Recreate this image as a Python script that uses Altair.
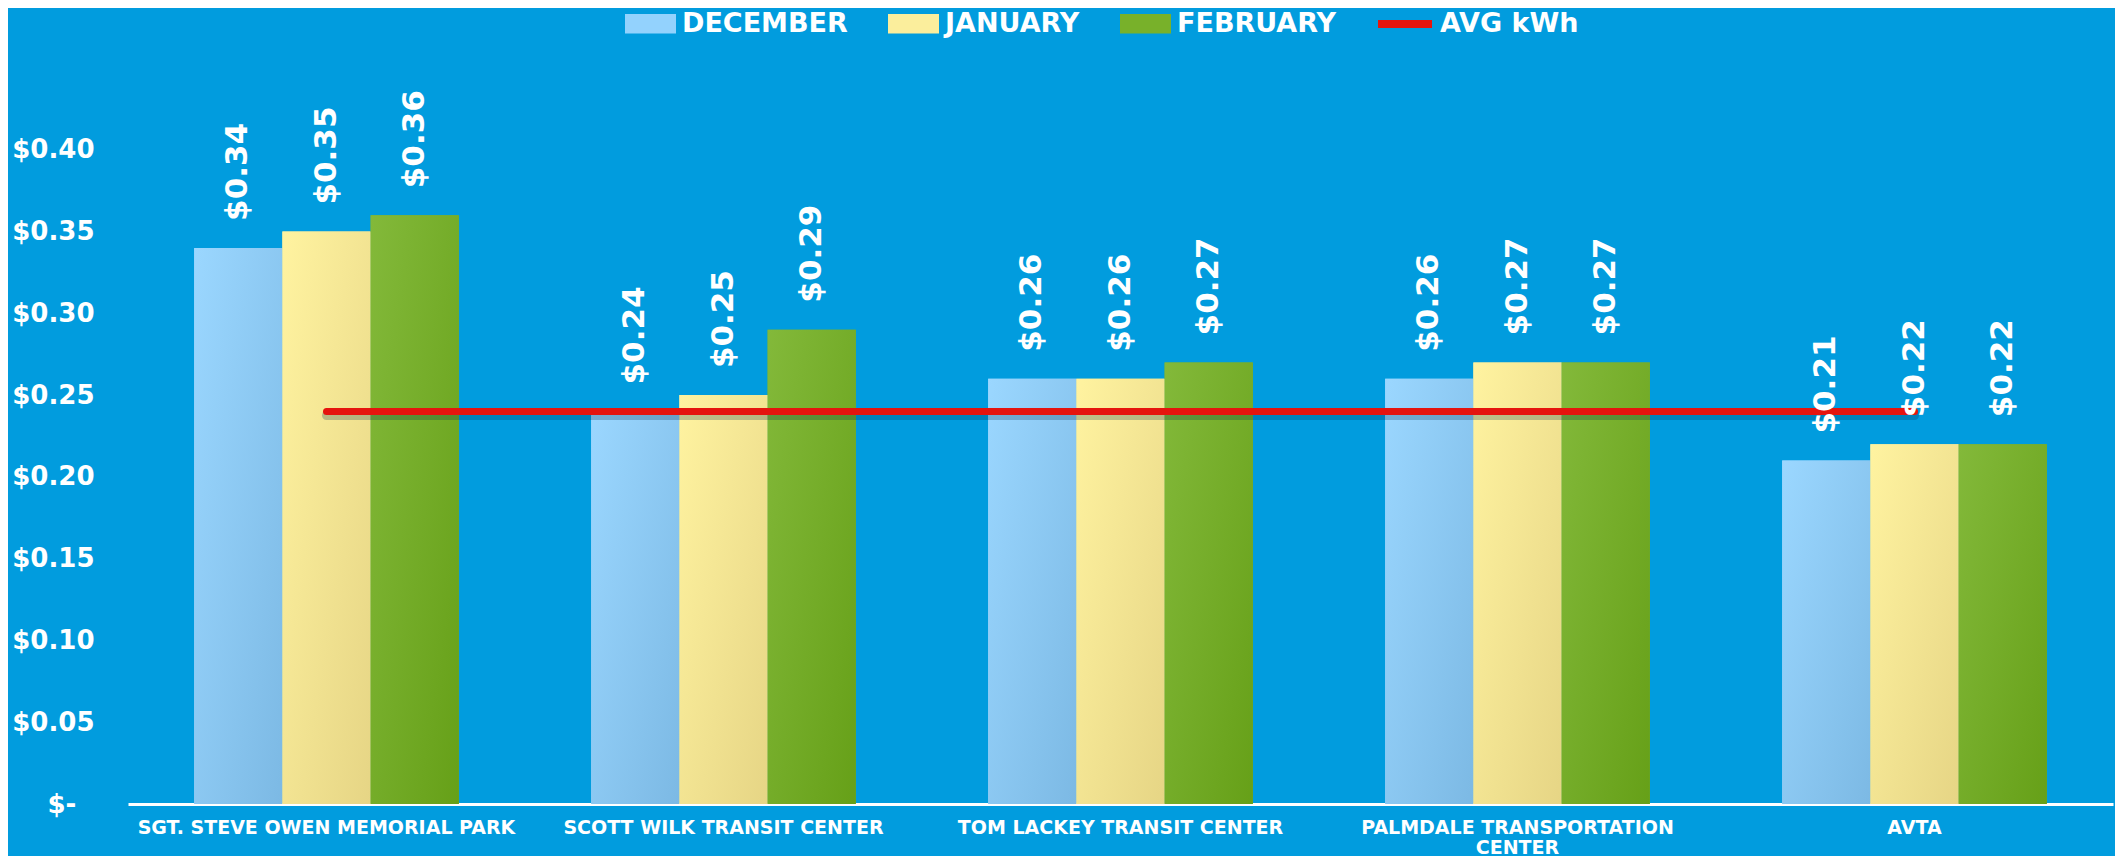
import altair as alt
import pandas as pd

locations = [
    "SGT. STEVE OWEN MEMORIAL PARK",
    "SCOTT WILK TRANSIT CENTER",
    "TOM LACKEY TRANSIT CENTER",
    "PALMDALE TRANSPORTATION CENTER",
    "AVTA",
]
months = ["DECEMBER", "JANUARY", "FEBRUARY"]
december = [0.34, 0.24, 0.26, 0.26, 0.21]
january = [0.35, 0.25, 0.26, 0.27, 0.22]
february = [0.36, 0.29, 0.27, 0.27, 0.22]
avg_kwh = [0.24, 0.24, 0.24, 0.24, 0.24]
avg_name = "AVG kWh"
y_ticks = [0.0, 0.05, 0.10, 0.15, 0.20, 0.25, 0.30, 0.35, 0.40]

flat_colors = ["#93D2FD", "#FBEE9C", "#78B12A"]
grad_colors = [
    ("#9BD7FF", "#7CB9E4"),
    ("#FFF3A0", "#E6D585"),
    ("#83B93A", "#66A018"),
]

rows = []
for m, vals in zip(months, [december, january, february]):
    for loc, v in zip(locations, vals):
        rows.append({"location": loc, "month": m, "value": v})
bars_df = pd.DataFrame(rows)
avg_df = pd.DataFrame({"location": locations, "value": avg_kwh, "series": [avg_name] * len(locations)})

FONT = "DejaVu Sans"

x_enc = alt.X(
    "location:N",
    sort=locations,
    scale=alt.Scale(domain=locations, paddingInner=1 / 3, paddingOuter=1 / 6),
    axis=alt.Axis(
        title=None,
        labelAngle=0,
        ticks=False,
        domainColor="white",
        domainWidth=3,
        labelColor="white",
        labelFont=FONT,
        labelFontWeight="bold",
        labelFontSize=19,
        labelPadding=14,
        labelLimit=600,
        labelLineHeight=20,
        labelExpr="datum.label == 'PALMDALE TRANSPORTATION CENTER' ? ['PALMDALE TRANSPORTATION', 'CENTER'] : datum.label",
    ),
)
xoff_enc = alt.XOffset("month:N", sort=months, scale=alt.Scale(domain=months, paddingInner=0, paddingOuter=0))
y_enc = alt.Y(
    "value:Q",
    scale=alt.Scale(domain=[0, 0.45], nice=False),
    axis=alt.Axis(
        title=None,
        values=y_ticks,
        grid=False,
        ticks=False,
        domain=False,
        labelColor="white",
        labelFont=FONT,
        labelFontWeight="bold",
        labelFontSize=26,
        labelPadding=34,
        labelExpr="datum.value == 0 ? '$-\u00a0\u00a0\u200b' : '$' + format(datum.value, '.2f')",
    ),
)

base = alt.Chart(bars_df)

bars = base.mark_bar().encode(
    x=x_enc,
    xOffset=xoff_enc,
    y=y_enc,
    fill=alt.Fill(
        "month:N",
        sort=months,
        scale=alt.Scale(domain=months, range=flat_colors),
        legend=alt.Legend(
            title=None,
            orient="none",
            legendX=497,
            legendY=-70,
            direction="horizontal",
            symbolType="M-1,-0.38H1V0.38H-1Z",
            symbolSize=2601,
            symbolStrokeWidth=0,
            labelColor="white",
            labelFont=FONT,
            labelFontWeight="bold",
            labelFontSize=27,
            labelOffset=6,
            labelLimit=400,
            columnPadding=40,
        ),
    ),
)

grad_layers = []
for m, (c1, c2) in zip(months, grad_colors):
    grad_layers.append(
        base.transform_filter(alt.datum.month == m)
        .mark_bar(
            fill=alt.Gradient(
                gradient="linear",
                stops=[alt.GradientStop(color=c1, offset=0), alt.GradientStop(color=c2, offset=1)],
                x1=0, y1=0, x2=1, y2=1,
            )
        )
        .encode(x=x_enc, xOffset=xoff_enc, y=y_enc)
    )

line_shadow = alt.Chart(avg_df).mark_line(
    strokeWidth=9, strokeCap="round", color="#003050", opacity=0.25
).encode(x=x_enc, y=y_enc, yOffset=alt.value(4))

line = alt.Chart(avg_df).mark_line(strokeWidth=7, strokeCap="round").encode(
    x=x_enc,
    y=y_enc,
    stroke=alt.Stroke(
        "series:N",
        scale=alt.Scale(domain=[avg_name], range=["#E5140E"]),
        legend=alt.Legend(
            title=None,
            orient="none",
            legendX=1246,
            legendY=-75,
            direction="horizontal",
            symbolType="stroke",
            symbolSize=2916,
            symbolStrokeWidth=8,
            labelColor="white",
            labelFont=FONT,
            labelFontWeight="bold",
            labelFontSize=27,
            labelOffset=4,
            labelLimit=400,
        ),
    ),
)

labels = base.mark_text(
    angle=270,
    align="left",
    baseline="middle",
    dx=27,
    color="white",
    font=FONT,
    fontWeight="bold",
    fontSize=31,
).encode(
    x=x_enc,
    xOffset=xoff_enc,
    y=y_enc,
    text=alt.Text("value:Q", format="$.2f"),
)

chart = (
    alt.layer(bars, *grad_layers, line_shadow, line, labels)
    .resolve_scale(fill="independent", stroke="independent")
    .properties(
        width=1985,
        height=736,
        autosize=alt.AutoSizeParams(type="none"),
        padding={"left": 120, "top": 60, "right": 2, "bottom": 52},
        background="#019CDE",
    )
    .configure_view(stroke=None)
)

chart.save("out.html", embed_options={"renderer": "svg", "actions": False})
